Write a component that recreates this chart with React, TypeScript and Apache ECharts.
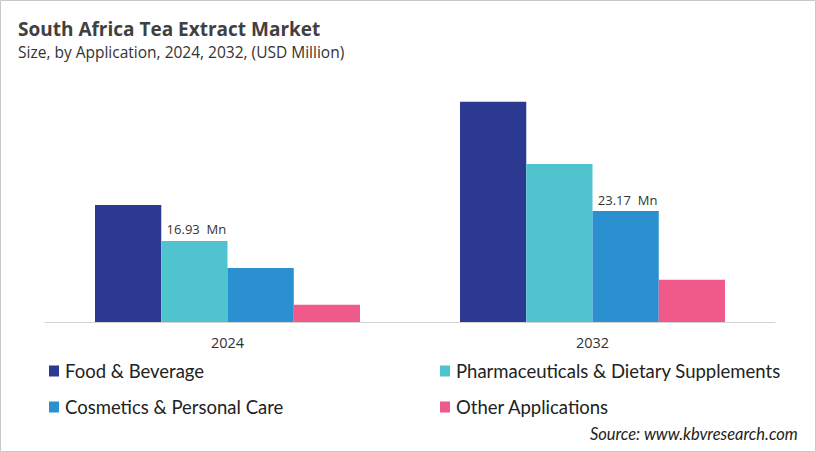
import React, { useEffect, useRef } from "react";
import * as echarts from "echarts";

const categories = ["2024", "2032"];
const seriesNames = [
  "Food & Beverage",
  "Pharmaceuticals & Dietary Supplements",
  "Cosmetics & Personal Care",
  "Other Applications",
];
const foodBeverage = [24.45, 46.0];
const pharmaceuticals = [16.93, 33.0];
const cosmetics = [11.3, 23.17];
const otherApps = [3.6, 8.8];
const colors = ["#2B3990", "#4FC4CF", "#2A90D0", "#EF5A8B"];
// which bar (series index, category index) carries a value label
const labelled: [number, number][] = [
  [1, 0],
  [2, 1],
];

export default function App() {
  const ref = useRef<HTMLDivElement>(null);
  useEffect(() => {
    document.body.style.margin = "0";
    const chart = echarts.init(ref.current!, undefined, { renderer: "svg" });
    const values = [foodBeverage, pharmaceuticals, cosmetics, otherApps];
    const series = values.map((vals, si) => ({
      name: seriesNames[si],
      type: "bar",
      barGap: "0%",
      barCategoryGap: "27.4%",
      itemStyle: { color: colors[si] },
      data: vals.map((v, ci) => {
        const show = labelled.some(([s, c]) => s === si && c === ci);
        return {
          value: v,
          label: {
            show,
            position: "top",
            distance: 5,
            offset: [2, 0],
            formatter: (p: any) => `${p.value}  Mn`,
            color: "#333333",
            fontSize: 13,
            fontFamily: "Open Sans",
          },
        };
      }),
    }));
    const legendText = {
      fontSize: 18.5,
      color: "#222222",
      fontFamily: "Lato",
      lineHeight: 20,
      padding: [0, 0, 0, 1],
    };
    chart.setOption({
      animation: false,
      backgroundColor: "#ffffff",
      title: [
        {
          text: "South Africa Tea Extract Market",
          left: 18,
          top: 19,
          padding: 0,
          textStyle: {
            fontSize: 19,
            fontWeight: "bold",
            color: "#404040",
            fontFamily: "Open Sans",
          },
        },
        {
          text: "Size, by Application, 2024, 2032, (USD Million)",
          left: 18,
          top: 44,
          padding: 0,
          textStyle: {
            fontSize: 15.5,
            fontWeight: "normal",
            color: "#333333",
            fontFamily: "Open Sans",
          },
        },
        {
          text: "Source: www.kbvresearch.com",
          right: 18,
          top: 425,
          padding: 0,
          textStyle: {
            fontSize: 16.5,
            fontWeight: "normal",
            fontStyle: "italic",
            color: "#222222",
            fontFamily: "Lato",
          },
        },
      ],
      legend: [
        {
          data: [seriesNames[0], seriesNames[2]],
          orient: "vertical",
          left: 49,
          top: 361,
          icon: "rect",
          itemWidth: 10,
          itemHeight: 11,
          itemGap: 16,
          padding: 0,
          selectedMode: false,
          textStyle: legendText,
        },
        {
          data: [seriesNames[1], seriesNames[3]],
          orient: "vertical",
          left: 440,
          top: 361,
          icon: "rect",
          itemWidth: 10,
          itemHeight: 11,
          itemGap: 16,
          padding: 0,
          selectedMode: false,
          textStyle: legendText,
        },
      ],
      grid: { left: 45, right: 41, top: 82.6, bottom: 130 },
      xAxis: {
        type: "category",
        data: categories,
        axisLine: { lineStyle: { color: "#d4d4d4", width: 1 } },
        axisTick: { show: false },
        axisLabel: {
          color: "#333333",
          fontSize: 14.5,
          margin: 13,
          fontFamily: "Open Sans",
        },
      },
      yAxis: {
        type: "value",
        min: 0,
        max: 50,
        show: false,
        splitLine: { show: false },
      },
      graphic: [
        {
          type: "rect",
          shape: { x: 0.5, y: 0.5, width: 815, height: 451 },
          style: { fill: "none", stroke: "#c8c8c8", lineWidth: 1 },
          silent: true,
        },
      ],
      series,
    });
    return () => chart.dispose();
  }, []);
  return (
    <div
      ref={ref}
      style={{ width: 816, height: 452, position: "absolute", left: 0, top: 0 }}
    />
  );
}
